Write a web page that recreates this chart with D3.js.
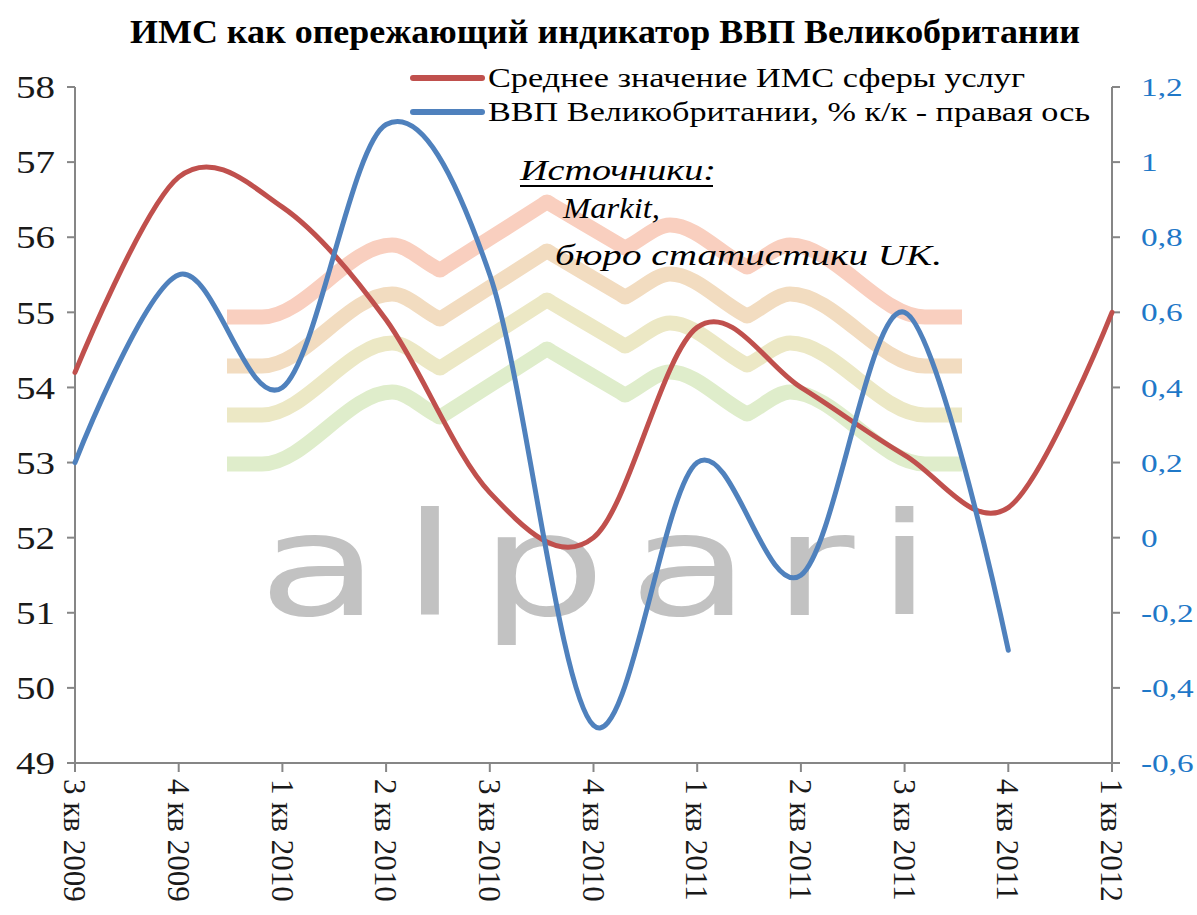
<!DOCTYPE html>
<html lang="ru">
<head>
<meta charset="UTF-8">
<title>ИМС и ВВП Великобритании</title>
<script src="https://d3js.org/d3.v7.min.js"></script>
<style>
    body { margin: 0; background: #fff; }
    text { font-family: "Liberation Serif", "DejaVu Serif", serif; }
</style>
</head>
<body>
<svg id="chart" width="1197" height="915"></svg>
<script>
    // quarters on the x axis
    var categories = ["3 кв 2009", "4 кв 2009", "1 кв 2010", "2 кв 2010", "3 кв 2010", "4 кв 2010",
                      "1 кв 2011", "2 кв 2011", "3 кв 2011", "4 кв 2011", "1 кв 2012"];
    // average services PMI (left axis)
    var pmiServices = [54.2, 56.8, 56.4, 54.9, 52.6, 52.0, 54.8, 54.0, 53.1, 52.4, 55.0];
    // UK GDP, % q/q (right axis), no value yet for 1q 2012
    var gdpQoQ = [0.2, 0.7, 0.4, 1.1, 0.7, -0.5, 0.2, -0.1, 0.6, -0.3];
    var leftTicks = [49, 50, 51, 52, 53, 54, 55, 56, 57, 58];
    var rightTicks = [-0.6, -0.4, -0.2, 0, 0.2, 0.4, 0.6, 0.8, 1, 1.2];
    var seriesNames = ["Среднее значение ИМС  сферы услуг", "ВВП Великобритании, % к/к - правая ось"];

    var svg = d3.select("#chart");
    var plotL = 75, plotR = 1112, plotT = 87, plotB = 763;
    var red = "#c0504d", blue = "#4f81bd", axisGray = "#868686";

    var x = d3.scalePoint().domain(categories).range([plotL, plotR]);
    var yL = d3.scaleLinear().domain([49, 58]).range([plotB, plotT]);
    var yR = d3.scaleLinear().domain([-0.6, 1.2]).range([plotB, plotT]);

    var ru = d3.formatLocale({decimal: ",", thousands: " ", grouping: [3], currency: ["", ""], minus: "-"});
    var fmtR = ru.format("~g");

    // picture is a bit wider than tall, so glyphs are stretched sideways
    function stretch(sel, k) {
        sel.each(function () {
            var w = this.getComputedTextLength();
            d3.select(this).attr("textLength", w * k).attr("lengthAdjust", "spacingAndGlyphs");
        });
    }

    // ---- alpari logo in the background
    var logo = svg.append("g");
    // [x, dy, sharp?] ; sharp corners get two close helper points so the curve turns on them
    var logoWave = [[227, 0, 0], [262, 0, 0], [392, -72, 0], [440, -47, 1], [547, -115, 1],
                    [625, -69, 1], [670, -92, 0], [747, -50, 1], [790, -72, 0], [925, 0, 0], [962, 0, 0]];
    function wavePoints(base) {
        var pts = [];
        logoWave.forEach(function (p, i) {
            if (p[2]) {
                var a = logoWave[i - 1], b = logoWave[i + 1], d = 4;
                pts.push([p[0] - d, base + p[1] + (a[1] - p[1]) * d / (p[0] - a[0])]);
                pts.push([p[0], base + p[1]]);
                pts.push([p[0] + d, base + p[1] + (b[1] - p[1]) * d / (b[0] - p[0])]);
            } else {
                pts.push([p[0], base + p[1]]);
            }
        });
        return pts;
    }
    var bands = [[317, "#f9cfbf"], [366, "#f2dcc0"], [415, "#ece8c5"], [464, "#dfedcb"]];
    var wave = d3.line().curve(d3.curveMonotoneX);
    bands.forEach(function (b) {
        logo.append("path")
            .attr("d", wave(wavePoints(b[0])))
            .attr("fill", "none")
            .attr("stroke", b[1])
            .attr("stroke-width", 15)
            .attr("stroke-linejoin", "round");
    });
    logo.append("text")
        .attr("transform", "translate(258,615) scale(1.4,1)")
        .style("font-family", "'DejaVu Sans', sans-serif")
        .style("font-size", "142px")
        .style("letter-spacing", "16px")
        .attr("fill", "#c2c2c2")
        .text("alpari");

    // ---- sources note
    var src = svg.append("g").style("font-style", "italic").style("font-size", "30px").attr("fill", "#000");
    src.append("text").attr("x", 520).attr("y", 180).attr("textLength", 196).attr("lengthAdjust", "spacingAndGlyphs").text("Источники:");
    src.append("line").attr("x1", 520).attr("x2", 713).attr("y1", 186).attr("y2", 186).attr("stroke", "#000").attr("stroke-width", 2);
    src.append("text").attr("x", 563).attr("y", 218).attr("textLength", 97).attr("lengthAdjust", "spacingAndGlyphs").text("Markit,");
    src.append("text").attr("x", 555).attr("y", 265).attr("textLength", 387).attr("lengthAdjust", "spacingAndGlyphs").text("бюро статистики  UK.");

    // ---- axes
    var axes = svg.append("g").attr("stroke", axisGray).attr("stroke-width", 2);
    axes.append("line").attr("x1", plotL).attr("x2", plotL).attr("y1", plotT).attr("y2", plotB);
    axes.append("line").attr("x1", plotR).attr("x2", plotR).attr("y1", plotT).attr("y2", plotB);
    axes.append("line").attr("x1", plotL).attr("x2", plotR).attr("y1", plotB).attr("y2", plotB);
    axes.selectAll(".tl").data(leftTicks).enter().append("line")
        .attr("x1", plotL - 8).attr("x2", plotL).attr("y1", yL).attr("y2", yL);
    axes.selectAll(".tr").data(rightTicks).enter().append("line")
        .attr("x1", plotR).attr("x2", plotR + 8).attr("y1", yR).attr("y2", yR);
    axes.selectAll(".tx").data(categories).enter().append("line")
        .attr("x1", x).attr("x2", x).attr("y1", plotB).attr("y2", plotB + 9);

    svg.selectAll(".ll").data(leftTicks).enter().append("text")
        .attr("x", plotL - 20).attr("y", yL).attr("dy", "0.35em")
        .attr("text-anchor", "end")
        .style("font-size", "32px").attr("fill", "#1a1a1a")
        .text(function (d) { return d; })
        .call(stretch, 1.22);

    svg.selectAll(".rl").data(rightTicks).enter().append("text")
        .attr("x", plotR + 29).attr("y", yR).attr("dy", "0.35em")
        .style("font-size", "26px").attr("fill", "#1f78c8")
        .text(fmtR)
        .call(stretch, 1.28);

    svg.selectAll(".xl").data(categories).enter().append("text")
        .attr("transform", function (d) { return "translate(" + x(d) + "," + (plotB + 16) + ") rotate(90)"; })
        .attr("dy", "0.35em")
        .style("font-size", "31px").attr("fill", "#1a1a1a")
        .text(function (d) { return d; });

    // ---- series
    var lineL = d3.line().x(function (d, i) { return x(categories[i]); }).y(function (d) { return yL(d); })
        .curve(d3.curveCardinal.tension(0));
    var lineR = d3.line().x(function (d, i) { return x(categories[i]); }).y(function (d) { return yR(d); })
        .curve(d3.curveCardinal.tension(0));

    svg.append("path").attr("d", lineL(pmiServices))
        .attr("fill", "none").attr("stroke", red).attr("stroke-width", 5).attr("stroke-linecap", "round");
    svg.append("path").attr("d", lineR(gdpQoQ))
        .attr("fill", "none").attr("stroke", blue).attr("stroke-width", 5).attr("stroke-linecap", "round");

    // ---- title
    svg.append("text")
        .attr("x", 605).attr("y", 43)
        .attr("text-anchor", "middle")
        .style("font-size", "33px").style("font-weight", "bold")
        .attr("textLength", 950).attr("lengthAdjust", "spacingAndGlyphs")
        .text("ИМС как опережающий  индикатор ВВП  Великобритании");

    // ---- legend
    var legend = svg.append("g");
    var legendRows = [[seriesNames[0], red, 78, 537], [seriesNames[1], blue, 112, 602]];
    legendRows.forEach(function (r) {
        legend.append("line")
            .attr("x1", 413).attr("x2", 482).attr("y1", r[2]).attr("y2", r[2])
            .attr("stroke", r[1]).attr("stroke-width", 6).attr("stroke-linecap", "round");
        legend.append("text")
            .attr("x", 488).attr("y", r[2] + 9)
            .style("font-size", "28px").attr("fill", "#000")
            .attr("textLength", r[3]).attr("lengthAdjust", "spacingAndGlyphs")
            .text(r[0]);
    });
</script>
</body>
</html>
